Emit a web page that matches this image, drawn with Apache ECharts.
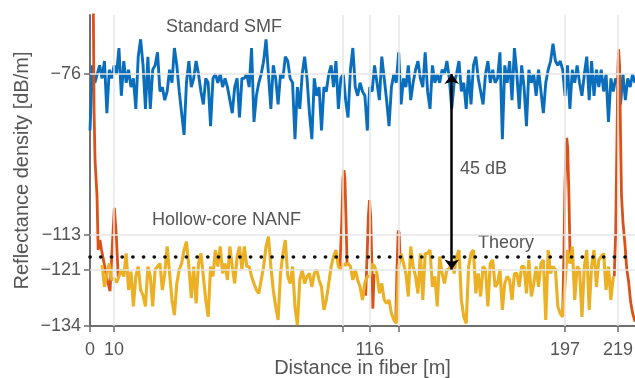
<!DOCTYPE html>
<html><head><meta charset="utf-8">
<script src="https://cdn.jsdelivr.net/npm/echarts@6/dist/echarts.min.js"></script>
<style>html,body{margin:0;padding:0;background:#fff}#c{width:635px;height:378px}</style>
</head><body><div id="c"></div>
<script>
// ---- data ----
const smfStart = 0; // m, 1 m spacing
const smfValues = [
-89,-74,-78,-76,-74,-77,-73,-85,-75,-77,
-74,-76,-70,-81,-73,-78,-75,-79,-77,-84,
-72,-68,-74,-84,-72,-84,-75,-74,-71,-80,
-79,-82,-80,-75,-78,-70,-74,-80,-85,-90,
-78,-73,-79,-77,-73,-76,-80,-83,-77,-78,
-88,-77,-76,-78,-76,-79,-77,-79,-82,-85,
-79,-77,-86,-77,-77,-76,-79,-70,-87,-81,
-78,-76,-73,-68,-76,-84,-74,-77,-83,-76,
-77,-72,-73,-77,-78,-91,-79,-84,-76,-72,
-77,-85,-91,-77,-81,-79,-89,-79,-80,-76,
-74,-79,-73,-84,-77,-76,-82,-86,-75,-70,
-79,-81,-78,-80,-81,-89,-79,-80,-74,-78,
-82,-72,-77,-82,-88,-79,-76,-78,-71,-83,
-77,-79,-74,-82,-78,-75,-73,-77,-79,-71,
-80,-84,-74,-78,-76,-78,-75,-76,-73,-77,
-84,-78,-76,-73,-80,-78,-84,-75,-83,-74,
-72,-77,-80,-83,-76,-73,-78,-75,-78,-77,
-71,-91,-74,-78,-73,-82,-70,-76,-84,-74,
-79,-88,-75,-78,-76,-81,-75,-80,-85,-78,
-75,-73,-69,-73,-74,-73,-75,-81,-74,-84,
-75,-78,-74,-78,-81,-76,-72,-82,-73,-81,
-75,-79,-75,-80,-76,-87,-77,-80,-77,-78,
-83,-76,-82,-77,-79,-76,-78
];
const nanfStart = 5; // m, 1 m spacing
const nanfValues = [
-120,-125,-122,-119.6,-123.4,-123,-124,-122.6,-121,-122.6,
-117.3,-125.7,-121.5,-129.5,-122.6,-120.3,-125.7,-127,-129.5,-120.3,
-122.6,-129.5,-121,-120.3,-119.6,-125.7,-121.9,-115.7,-121.9,-128,
-131.5,-124.2,-121,-119.6,-116.5,-114.6,-120.3,-127.6,-120.3,-128.8,
-119.6,-117.3,-122.6,-128,-131.9,-120.3,-122.6,-116.5,-120.3,-115.7,
-121.9,-119.6,-123.4,-115.7,-120.3,-124.2,-118,-115.7,-121,-115.7,
-120.3,-120.3,-122.6,-124.2,-125.7,-126.5,-123.4,-120.3,-115.7,-113.4,
-120.3,-125.7,-129.5,-132.6,-121.9,-117.3,-114.2,-122.6,-124.2,-120.3,
-129.5,-133.8,-123.4,-121,-124.2,-122.6,-121.9,-125,-121.9,-121,
-123.4,-125,-130.3,-128,-124.2,-120.3,-118,-116.5,-120.3,-121,
-119.6,-120,-119.6,-120.3,-123.4,-121,-123.4,-125,-128,-124,
-122.6,-122.6,-119.6,-120.3,-121.9,-126.5,-124.2,-128,-128.8,-128,
-131.1,-132.6,-133.4,-120.3,-117.3,-119.6,-121.9,-127.2,-115.7,-120.3,
-122.6,-126.5,-117.3,-128,-117.3,-117.3,-116.5,-125,-122.6,-129.5,
-118,-121.9,-124.2,-121,-121,-118.8,-121.9,-118,-116.5,-128,
-131.9,-133.4,-120.3,-117.3,-116.5,-126.5,-121.9,-127.2,-120.3,-121,
-129.5,-119.6,-118.8,-125,-124.2,-121,-130.3,-124.2,-122.6,-123.4,
-128,-121.9,-121.9,-125,-120.3,-120.3,-126.5,-118.8,-127.2,-124.2,
-120.3,-125,-119.6,-118.8,-132.6,-116.5,-121.9,-120.3,-121,-129.5,
-131.1,-131.9,-124.2,-116.5,-119.6,-115.7,-128,-120.3,-121,-131.9,
-120.3,-116.5,-130.3,-120.3,-116.5,-125,-118.8,-118,-117.3,-125.7,
-120.3,-128,-122.6
];
// raw NANF trace around the reflection peaks (null = gap)
const rawDist = [
1.2,1.4,1.7,2.1,2.6,2.9,3.4,3.8,4.1,4.8,6,7,8.3,9.2,10.1,10.9,11.7,12.3, 50,
103.6,104.4,104.9,105.3,105.7,106.2,106.6, 110,
114.3,114.9,115.4,115.9,116.4,116.9,117.3,117.8, 122,
126.8,127.3,127.8,128.2,128.6,129, 160,
196,196.5,196.9,197.4,197.7,198.1,198.6,199,199.3, 210,
217.4,218,218.5,218.9,219.2,219.6,220,220.4,221,221.8,222.6,223.4,224.2,225,226
];
const rawValues = [
-50,-62,-85,-96,-101,-104,-116.5,-115,-114.2,-116.5,-120,-123,-126,-116,-106.8,-113,-122.7,-122.6, null,
-121,-110,-100,-98.1,-100,-110,-120, null,
-127,-118,-109,-105,-109,-120,-130,-122, null,
-132.6,-121,-112,-112.5,-119,-117.3, null,
-131.9,-118,-103,-93,-90.7,-93,-104,-116,-119.6, null,
-122.6,-112,-92,-75,-70.3,-74,-90,-104,-110,-115,-121,-124,-128.5,-131,-133
];
const xTicks = [0, 10, 105, 116, 128, 197, 219];
const xLabels = [0, 10, 116, 197, 219];
const xGrid = [10, 105, 116, 128, 197, 219];
const yTicks = [-134, -121, -113, -76];
const yGrid = [-121, -113, -76];
const theoryLevel = -118;
const gapAt = 150, gapTop = -76, gapBottom = -121;
const seriesNames = ['Standard SMF', 'Hollow-core NANF'];

// ---- build ----
const smfData = smfValues.map((v, i) => [smfStart + i, v]);
const nanfData = nanfValues.map((v, i) => [nanfStart + i, v]);
const rawData = rawDist.map((d, i) => [d, rawValues[i]]);
const FONT = 'Liberation Sans, Arial, Helvetica, sans-serif';
const TXT = '#555555';
const AX = '#6e6e6e';
const minus = v => String(v).replace('-', '\u2212');

const chart = echarts.init(document.getElementById('c'), null, {renderer: 'canvas'});
chart.setOption({
  animation: false,
  backgroundColor: '#ffffff',
  textStyle: {fontFamily: FONT},
  grid: {left: 90, right: 0, top: 15, bottom: 52, containLabel: false, outerBoundsMode: 'none'},
  xAxis: {
    type: 'value', min: 0, max: 226,
    name: 'Distance in fiber [m]', nameLocation: 'middle', nameGap: 32, nameMoveOverlap: false,
    nameTextStyle: {fontSize: 20, color: TXT, fontFamily: FONT},
    axisLine: {show: true, onZero: false, lineStyle: {color: AX, width: 2}},
    axisTick: {show: true, customValues: xTicks, length: 6, lineStyle: {color: AX, width: 1.5}},
    axisLabel: {customValues: xLabels, fontSize: 18, color: TXT, margin: 15, fontFamily: FONT},
    splitLine: {show: false}
  },
  yAxis: {
    type: 'value', min: -134, max: -62.4,
    name: 'Reflectance density [dB/m]', nameLocation: 'middle', nameGap: 58, nameMoveOverlap: false,
    nameTextStyle: {fontSize: 20, color: TXT, fontFamily: FONT},
    axisLine: {show: true, onZero: false, lineStyle: {color: AX, width: 2}},
    axisTick: {show: true, customValues: yTicks, length: 6, lineStyle: {color: AX, width: 1.5}},
    axisLabel: {customValues: yTicks, fontSize: 18, color: TXT, margin: 9, fontFamily: FONT, formatter: minus},
    splitLine: {show: false}
  },
  series: [
    {
      type: 'line', name: 'grid', data: [], z: 1, silent: true,
      markLine: {
        silent: true, symbol: ['none', 'none'], animation: false,
        label: {show: false},
        lineStyle: {color: '#e6e6e6', width: 1.5, type: 'solid'},
        data: xGrid.map(x => ({xAxis: x})).concat(yGrid.map(y => ({yAxis: y})))
      }
    },
    {
      type: 'line', name: seriesNames[0], data: smfData, z: 2,
      showSymbol: false, symbol: 'none',
      lineStyle: {color: '#0A6EBD', width: 2.9}, itemStyle: {color: '#0A6EBD'}
    },
    {
      type: 'line', name: 'raw', data: rawData, z: 3,
      showSymbol: false, symbol: 'none', connectNulls: false,
      lineStyle: {color: '#D95319', width: 2.8}, itemStyle: {color: '#D95319'}
    },
    {
      type: 'line', name: seriesNames[1], data: nanfData, z: 4,
      showSymbol: false, symbol: 'none',
      lineStyle: {color: '#EBB024', width: 3.1}, itemStyle: {color: '#EBB024'}
    },
    {
      type: 'line', name: 'theory', data: [], z: 5, silent: true,
      markLine: {
        silent: true, animation: false, symbol: ['none', 'none'],
        label: {show: false},
        lineStyle: {color: '#111', width: 3.6, type: [0.2, 10.5], cap: 'round'},
        data: [{yAxis: theoryLevel}]
      }
    },
    {
      type: 'line', name: 'gap', data: [], z: 6, silent: true,
      markLine: {
        silent: true, animation: false, symbol: ['arrow', 'arrow'], symbolSize: [11, 10],
        label: {show: false},
        lineStyle: {color: '#000', width: 2.5, type: 'solid'},
        data: [[{coord: [gapAt, gapTop]}, {coord: [gapAt, gapBottom]}]]
      }
    }
  ],
  graphic: [
    {type: 'text', left: 166, top: 18, style: {text: seriesNames[0], font: '18px ' + FONT, fill: TXT}},
    {type: 'text', left: 152, top: 211, style: {text: seriesNames[1], font: '18px ' + FONT, fill: TXT}},
    {type: 'text', left: 460, top: 160, style: {text: '45 dB', font: '18px ' + FONT, fill: TXT}},
    {type: 'text', left: 478, top: 234, style: {text: 'Theory', font: '18px ' + FONT, fill: TXT}}
  ]
});
</script></body></html>
